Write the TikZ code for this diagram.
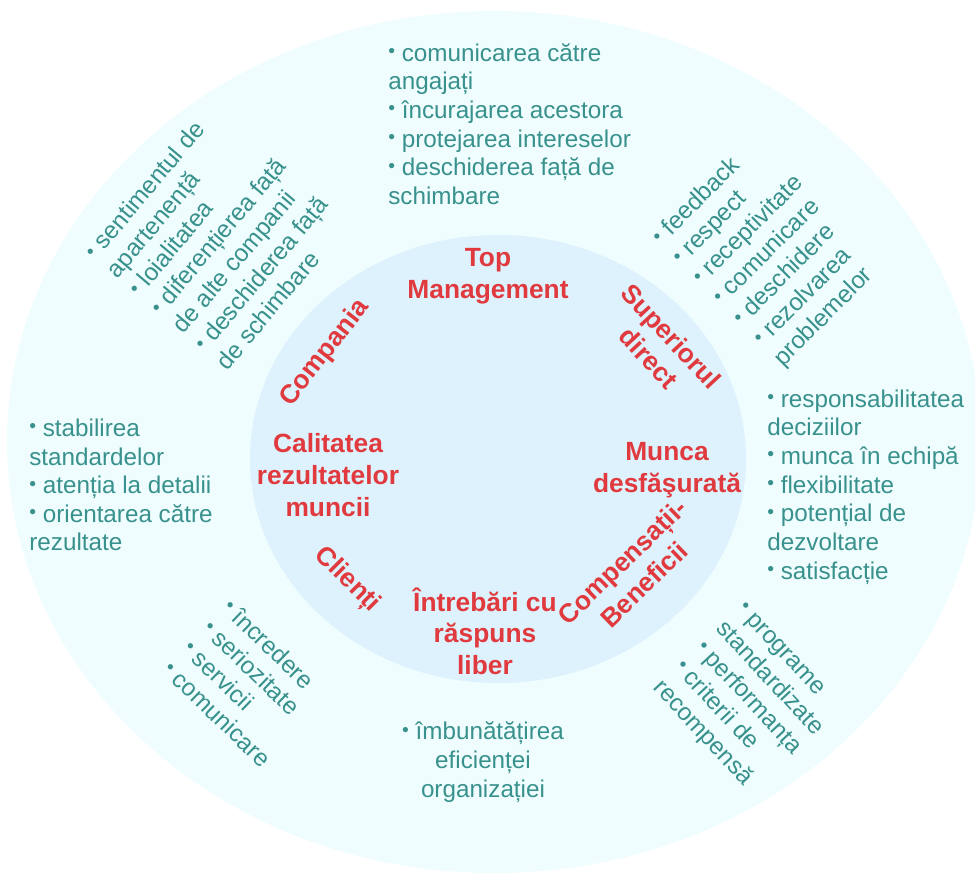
\documentclass[tikz,border=0pt]{standalone}
\usepackage{fontspec}
\setmainfont{Liberation Sans}
\definecolor{motouter}{RGB}{239,253,254}
\definecolor{motinner}{RGB}{221,242,253}
\definecolor{motred}{RGB}{224,58,62}
\definecolor{motteal}{RGB}{56,145,140}
\newcommand{\bul}{\raisebox{0.15em}{\fontsize{11}{11}\selectfont\textbullet}\ }

\begin{document}
\begin{tikzpicture}[x=0.02cm, y=-0.02cm,
    factor/.style={font=\fontsize{15}{18}\selectfont\bfseries, text=motred, align=center, inner sep=0pt},
    items/.style={font=\fontsize{13.8}{16.3}\selectfont, text=motteal, align=left, inner sep=0pt}]
    \useasboundingbox (0,0) rectangle (975,882);

    % Outer ring and inner disc
    \fill[motouter] (494,442) ellipse (487 and 431);
    \fill[motinner] (498,459) ellipse (248 and 224);

    % Factors (inner disc)
    \node[factor] (top) at (488,276) {Top\\Management};
    \node[factor, rotate=-47] (sup) at (660,347) {Superiorul\\direct};
    \node[factor] (munca) at (667,470) {Munca\\desfăşurată};
    \node[factor, rotate=44] (comp) at (633,573) {Compensații-\\Beneficii};
    \node[factor] (intreb) at (485,631) {Întrebări cu\\răspuns\\liber};
    \node[factor, rotate=-45] (clienti) at (347,580) {Clienți};
    \node[factor] (calit) at (328,475) {Calitatea\\rezultatelor\\muncii};
    \node[factor, rotate=52] (companie) at (325,353) {Compania};

    % Items (outer ring)
    \node[items, anchor=west] (topitems) at (388,124) {\bul comunicarea către\\angajați\\\bul încurajarea acestora\\\bul protejarea intereselor\\\bul deschiderea față de\\schimbare};
    \node[items, rotate=45] (supitems) at (769,251) {\bul feedback\\\bul respect\\\bul receptivitate\\\bul comunicare\\\bul deschidere\\\bul rezolvarea\\problemelor};
    \node[items, anchor=west] (muncaitems) at (767,487) {\bul responsabilitatea\\deciziilor\\\bul munca în echipă\\\bul flexibilitate\\\bul potențial de\\dezvoltare\\\bul satisfacție};
    \node[items, rotate=-47] (compitems) at (747,700) {\bul programe\\standardizate\\\bul performanța\\\bul criterii de\\recompensă};
    \node[items, align=center] (intrebitems) at (483,762) {\bul îmbunătățirea\\eficienței\\organizației};
    \node[items, rotate=-44] (clientiitems) at (247,683) {\bul încredere\\\bul seriozitate\\\bul servicii\\\bul comunicare};
    \node[items, anchor=west] (calititems) at (29,485) {\bul stabilirea\\standardelor\\\bul atenția la detalii\\\bul orientarea către\\rezultate};
    \node[items, rotate=50] (companieitems) at (218,236) {\bul sentimentul de\\apartenență\\\bul loialitatea\\\bul diferențierea față\\de alte companii\\\bul deschiderea față\\de schimbare};
\end{tikzpicture}
\end{document}
